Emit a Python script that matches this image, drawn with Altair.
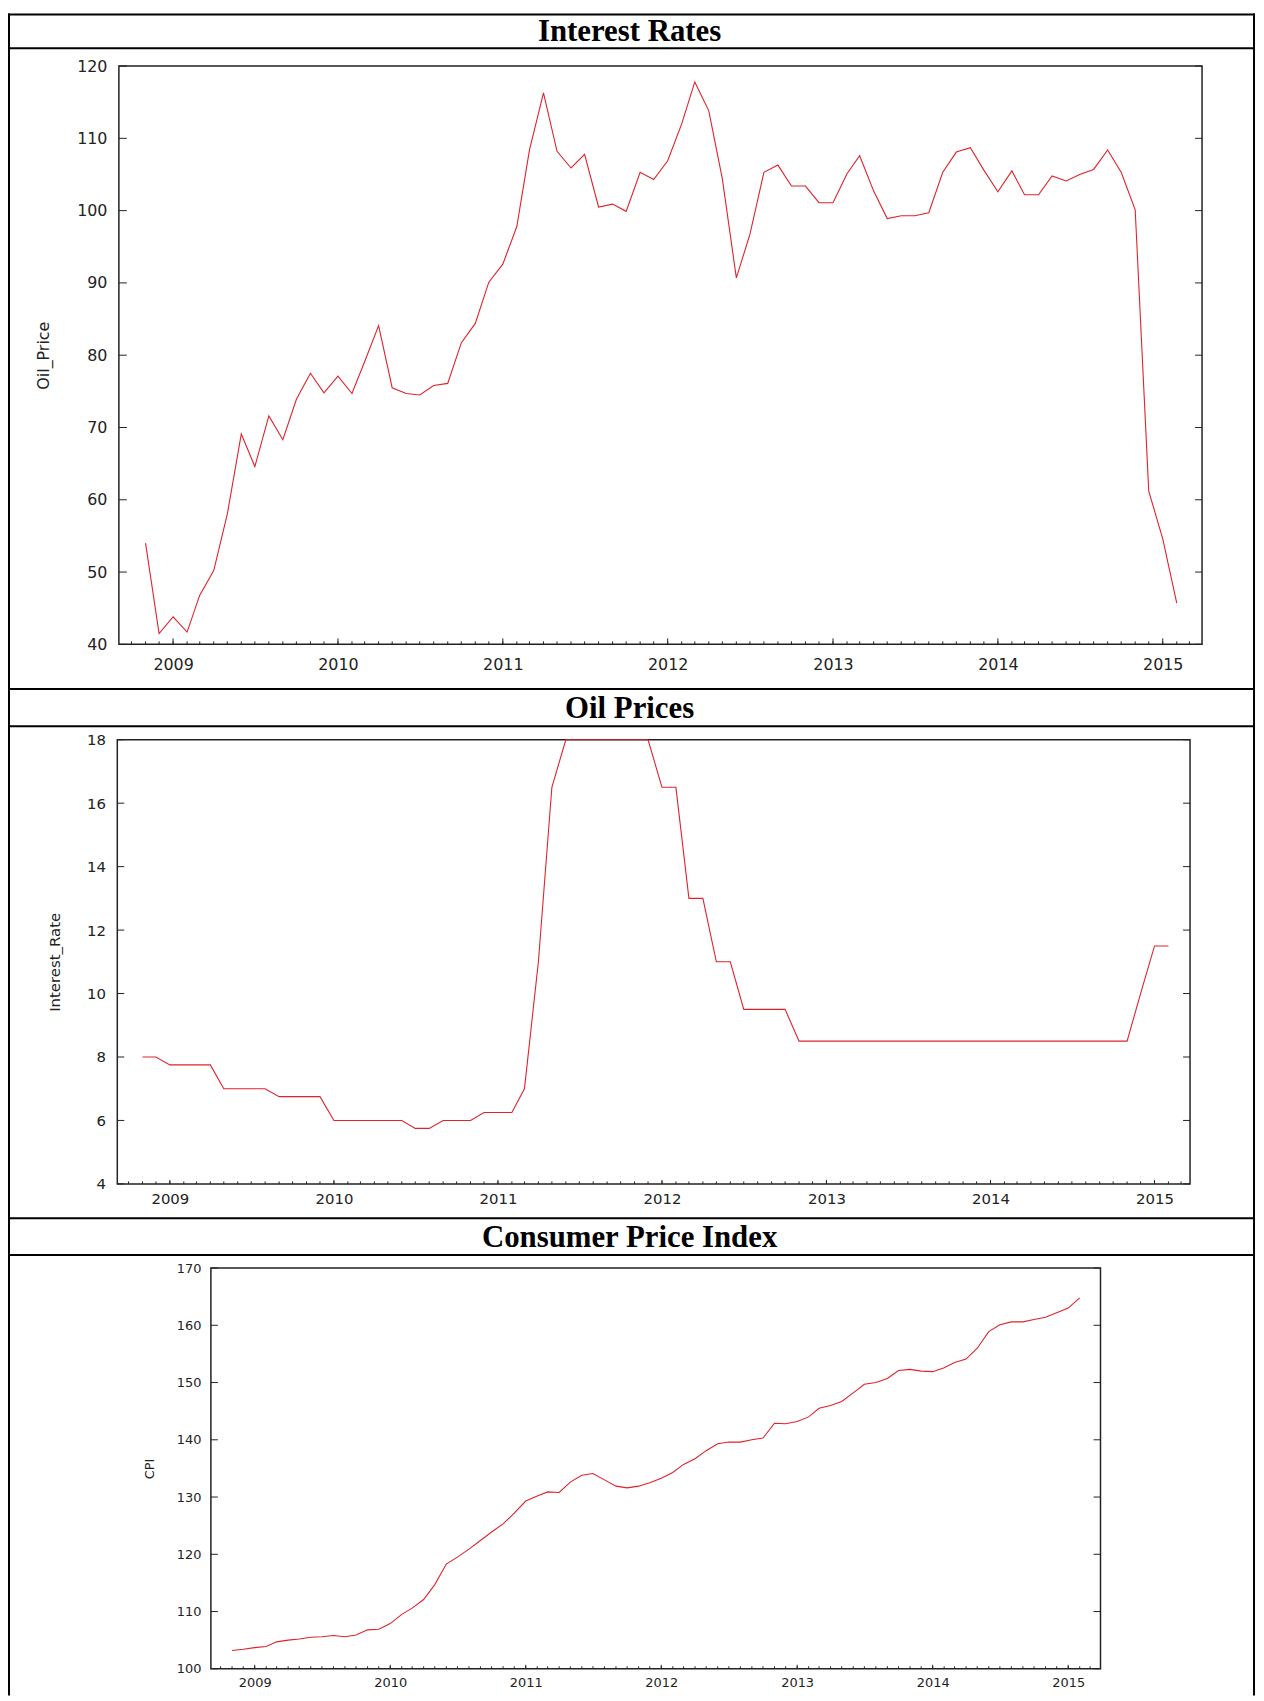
import altair as alt
import pandas as pd

# ---------------- data ----------------
dates = pd.date_range("2008-11-01", "2015-02-01", freq="MS").strftime("%Y-%m-%d").tolist()

oil_price = [54.0, 41.5, 43.8, 41.7, 46.8, 50.2, 58.0, 69.1, 64.6, 71.6,
             68.3, 73.9, 77.5, 74.8, 77.1, 74.7, 79.1, 84.1, 75.5, 74.7,
             74.5, 75.8, 76.1, 81.7, 84.4, 90.1, 92.6, 97.8, 108.4, 116.3,
             108.2, 105.9, 107.8, 100.5, 100.9, 99.9, 105.3, 104.3, 106.9, 112.0,
             117.8, 113.8, 104.4, 90.7, 96.7, 105.3, 106.3, 103.4, 103.4, 101.1,
             101.1, 105.1, 107.6, 102.7, 98.9, 99.3, 99.3, 99.7, 105.3, 108.1,
             108.7, 105.6, 102.6, 105.5, 102.2, 102.2, 104.8, 104.1, 105.0, 105.7,
             108.4, 105.3, 100.1, 61.2, 54.6, 45.7]

interest_rate = [8.0, 8.0, 7.75, 7.75, 7.75, 7.75, 7.0, 7.0, 7.0, 7.0,
                 6.75, 6.75, 6.75, 6.75, 6.0, 6.0, 6.0, 6.0, 6.0, 6.0,
                 5.75, 5.75, 6.0, 6.0, 6.0, 6.25, 6.25, 6.25, 7.0, 11.0,
                 16.5, 18.0, 18.0, 18.0, 18.0, 18.0, 18.0, 18.0, 16.5, 16.5,
                 13.0, 13.0, 11.0, 11.0, 9.5, 9.5, 9.5, 9.5, 8.5, 8.5,
                 8.5, 8.5, 8.5, 8.5, 8.5, 8.5, 8.5, 8.5, 8.5, 8.5,
                 8.5, 8.5, 8.5, 8.5, 8.5, 8.5, 8.5, 8.5, 8.5, 8.5,
                 8.5, 8.5, 8.5, 10.0, 11.5, 11.5]

cpi = [103.2, 103.4, 103.7, 103.9, 104.7, 105.0, 105.2, 105.5, 105.6, 105.8,
       105.6, 105.9, 106.8, 106.9, 107.9, 109.5, 110.6, 112.1, 114.7, 118.3,
       119.5, 120.9, 122.4, 123.9, 125.3, 127.2, 129.3, 130.2, 130.9, 130.8,
       132.6, 133.8, 134.1, 133.0, 131.9, 131.6, 131.9, 132.5, 133.3, 134.3,
       135.7, 136.7, 138.1, 139.3, 139.6, 139.6, 140.0, 140.3, 142.9, 142.8,
       143.2, 144.0, 145.5, 146.0, 146.7, 148.2, 149.7, 150.0, 150.7, 152.1,
       152.3, 152.0, 151.9, 152.6, 153.5, 154.1, 156.0, 158.9, 160.1, 160.6,
       160.6, 161.0, 161.4, 162.2, 163.0, 164.8]

panel_titles = ["Interest Rates", "Oil Prices", "Consumer Price Index"]
y_titles = ["Oil_Price", "Interest_Rate", "CPI"]
years = [2009, 2010, 2011, 2012, 2013, 2014, 2015]
year_ticks = [f"{y}-01-01" for y in years]
month_ticks = pd.date_range("2008-10-01", "2015-03-01", freq="MS").strftime("%Y-%m-%d").tolist()
oil_ticks = [40, 50, 60, 70, 80, 90, 100, 110, 120]
rate_ticks = [4, 6, 8, 10, 12, 14, 16, 18]
cpi_ticks = [100, 110, 120, 130, 140, 150, 160, 170]

# ---------------- layout / style ----------------
W, H = 1256, 1693
RED = "#e0222b"
INK = "#222222"
FONT = "DejaVu Sans"

panels = [
    dict(title=panel_titles[0], ytitle=y_titles[0], values=oil_price, yticks=oil_ticks, ydom=(40, 120),
         x0=111.6, x1=1201.7, y0=53, y1=635, d0=(2008, 9, 3), d1=(2015, 3, 29),
         fs=16, tfs=16, ylen=8, rlen=7, maj=6, mnr=3, ypad=12, xpad=12.5, tx=35.7, tb=28),
    dict(title=panel_titles[1], ytitle=y_titles[1], values=interest_rate, yticks=rate_ticks, ydom=(4, 18),
         x0=110, x1=1189.6, y0=731, y1=1178, d0=(2008, 9, 6), d1=(2015, 3, 21),
         fs=15, tfs=15, ylen=7, rlen=7, maj=4, mnr=2.5, ypad=12, xpad=8, tx=47, tb=709.2),
    dict(title=panel_titles[2], ytitle=y_titles[2], values=cpi, yticks=cpi_ticks, ydom=(100, 170),
         x0=204.2, x1=1099.5, y0=1262.7, y1=1666, d0=(2008, 9, 5), d1=(2015, 3, 29),
         fs=13, tfs=13, ylen=7, rlen=7, maj=4, mnr=2.5, ypad=10, xpad=8, tx=142.4, tb=1242),
]


def dt(t):
    return alt.DateTime(year=t[0], month=t[1], date=t[2], utc=True)


one = pd.DataFrame({"k": [0]})
layers = []

for p in panels:
    xs = alt.Scale(type="utc", domain=[dt(p["d0"]), dt(p["d1"])], range=[p["x0"], p["x1"]])
    ys = alt.Scale(domain=list(p["ydom"]), range=[p["y1"], p["y0"]], nice=False, zero=False)

    df = pd.DataFrame({"date": dates, "value": p["values"]})
    line = alt.Chart(df).mark_line(color=RED, strokeWidth=1.1).encode(
        x=alt.X("date:T", scale=xs, axis=alt.Axis(
            orient="bottom", offset=p["y1"] - H, values=[dt((y, 1, 1)) for y in years],
            format="%Y", ticks=False, tickSize=0, domain=False, grid=False,
            labelFont=FONT, labelFontSize=p["fs"], labelColor=INK, labelPadding=p["xpad"],
            labelFlush=False, labelOverlap=False, title=None)),
        y=alt.Y("value:Q", scale=ys, axis=alt.Axis(
            orient="left", offset=-p["x0"], values=p["yticks"], ticks=False, tickSize=0,
            domain=False, grid=False, labelFont=FONT, labelFontSize=p["fs"], labelColor=INK,
            labelPadding=p["ypad"], labelOverlap=False,
            title=p["ytitle"], titleFont=FONT, titleFontSize=p["tfs"], titleFontWeight="normal",
            titleColor=INK, titleAngle=270, titleAlign="center", titleBaseline="middle",
            titleX=p["tx"] - p["x0"], titleY=(p["y0"] + p["y1"]) / 2)),
    )

    box_df = pd.DataFrame({"a": ["%04d-%02d-%02d" % p["d0"]], "b": ["%04d-%02d-%02d" % p["d1"]],
                           "lo": [p["ydom"][0]], "hi": [p["ydom"][1]]})
    box = alt.Chart(box_df).mark_rect(fillOpacity=0, stroke=INK, strokeWidth=1.5).encode(
        x=alt.X("a:T", scale=xs, axis=None), x2="b:T",
        y=alt.Y("lo:Q", scale=ys, axis=None), y2="hi:Q")

    yt = pd.DataFrame({"v": p["yticks"]})
    lt = alt.Chart(yt).mark_rule(color=INK, strokeWidth=1).encode(
        y=alt.Y("v:Q", scale=ys, axis=None),
        x=alt.value(p["x0"]), x2=alt.value(p["x0"] + p["ylen"]))
    rt = alt.Chart(yt).mark_rule(color=INK, strokeWidth=1).encode(
        y=alt.Y("v:Q", scale=ys, axis=None),
        x=alt.value(p["x1"] - p["rlen"]), x2=alt.value(p["x1"]))
    xmaj = alt.Chart(pd.DataFrame({"d": year_ticks})).mark_rule(color=INK, strokeWidth=1).encode(
        x=alt.X("d:T", scale=xs, axis=None),
        y=alt.value(p["y1"] - p["maj"]), y2=alt.value(p["y1"]))
    xmin = alt.Chart(pd.DataFrame({"d": month_ticks})).mark_rule(color=INK, strokeWidth=1).encode(
        x=alt.X("d:T", scale=xs, axis=None),
        y=alt.value(p["y1"] - p["mnr"]), y2=alt.value(p["y1"]))

    title = alt.Chart(pd.DataFrame({"t": [p["title"]]})).mark_text(
        font="Liberation Serif", fontWeight="bold", fontSize=31, color="black",
        align="center", baseline="alphabetic").encode(
        x=alt.value(625.6), y=alt.value(p["tb"]), text="t:N")

    layers += [box, xmin, xmaj, lt, rt, line, title]

# panel frames (decoration)
for yv in [1, 35, 680, 717.5, 1212.6, 1249.5]:
    layers.append(alt.Chart(one).mark_rule(color="black", strokeWidth=2).encode(
        x=alt.value(0), x2=alt.value(1255), y=alt.value(yv)))
for xv in [1, 1254]:
    layers.append(alt.Chart(one).mark_rule(color="black", strokeWidth=2).encode(
        x=alt.value(xv), y=alt.value(0), y2=alt.value(H)))

chart = alt.layer(*layers).resolve_scale(
    x="independent", y="independent"
).properties(
    width=W, height=H, autosize=alt.AutoSizeParams(type="none"), padding=0
).configure_view(stroke=None)

chart.save("out.html", embed_options={"renderer": "svg", "actions": False})
